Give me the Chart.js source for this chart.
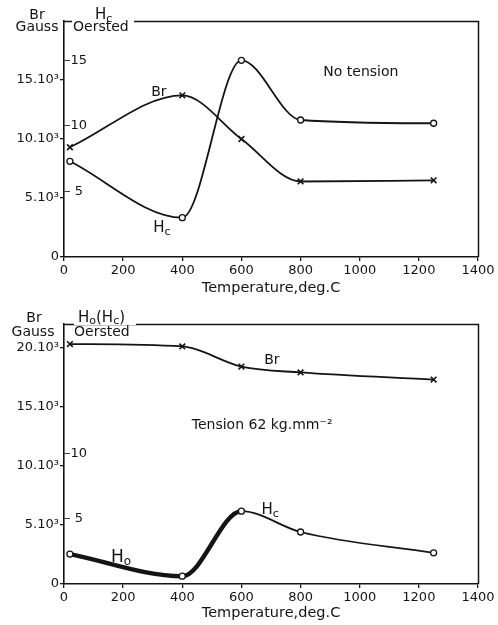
<!DOCTYPE html>
<html><head><meta charset="utf-8">
<script src="https://cdn.jsdelivr.net/npm/chart.js@4/dist/chart.umd.min.js"></script>
<style>
html,body{margin:0;padding:0;background:#fff;}
canvas{display:block;}
</style></head><body>
<canvas id="c1" width="498" height="300"></canvas>
<canvas id="c2" width="498" height="325"></canvas>
<script>
// ---- data ----
const temperatures = [20, 400, 600, 800, 1250];
const brNoTension = [9300, 13700, 10000, 6400, 6500];
const hcNoTension = [7.3, 3.0, 15.0, 10.45, 10.2];
const brTension = [20300, 20100, 18400, 17900, 17300];
const hcTension = [2.3, 0.6, 5.6, 4.0, 2.4];
const xTicks = [0, 200, 400, 600, 800, 1000, 1200, 1400];
const brTicksTop = [0, 5000, 10000, 15000];
const hcTicksTop = [5, 10, 15];
const brTicksBottom = [0, 5000, 10000, 15000, 20000];
const hcTicksBottom = [5, 10];

const FONT = '"DejaVu Sans", "Liberation Sans", sans-serif';
const INK = '#141414';

function pts(ys) { return temperatures.map((t, i) => ({x: t, y: ys[i]})); }
function brLabel(v) { return v === 0 ? '0' : (v / 1000) + '.10³'; }
function hcLabel(v) { return v < 10 ? '– ' + v : '–' + v; }

// rich text: parts [{t, size, dy}]
function drawRich(ctx, x, y, parts, align) {
  let w = 0;
  parts.forEach(p => { ctx.font = p.size + 'px ' + FONT; p.w = ctx.measureText(p.t).width; w += p.w; });
  let cx = align === 'center' ? x - w / 2 : (align === 'right' ? x - w : x);
  ctx.textAlign = 'left'; ctx.textBaseline = 'middle';
  parts.forEach(p => { ctx.font = p.size + 'px ' + FONT; ctx.fillText(p.t, cx, y + (p.dy || 0)); cx += p.w; });
}

const decor = {
  id: 'decor',
  beforeDatasetsDraw(chart) {
    const {ctx, chartArea: a} = chart;
    ctx.save();
    ctx.strokeStyle = INK; ctx.lineWidth = 1.5;
    ctx.beginPath(); ctx.moveTo(a.left, a.top + 0.5); ctx.lineTo(a.right + 0.5, a.top + 0.5); ctx.lineTo(a.right + 0.5, a.bottom); ctx.stroke();
    ctx.restore();
  },
  afterDraw(chart, args, opts) {
    const {ctx, chartArea: a} = chart;
    ctx.save();
    ctx.fillStyle = INK;
    (opts.headers || []).forEach(h => {
      if (h.bg) { ctx.fillStyle = '#fff'; ctx.fillRect(a.left + h.bg[0], a.top + h.bg[1], h.bg[2], h.bg[3]); ctx.fillStyle = INK; }
      drawRich(ctx, a.left + h.dx, a.top + h.dy, h.parts, h.align);
    });
    (opts.notes || []).forEach(n => {
      const px = chart.scales.x.getPixelForValue(n.x);
      const py = chart.scales[n.axis].getPixelForValue(n.y);
      drawRich(ctx, px, py, n.parts, 'center');
    });
    ctx.restore();
  }
};

function makeScales(brMax, hcMax, brTicks, hcTicks, xHeight) {
  const tickFont = {family: FONT, size: 13};
  return {
    x: {
      type: 'linear', min: 0, max: 1400,
      afterBuildTicks: s => { s.ticks = xTicks.map(v => ({value: v})); },
      grid: {drawOnChartArea: false, drawTicks: true, tickLength: 4, color: INK, lineWidth: 1.3},
      border: {display: true, color: INK, width: 1.6},
      ticks: {padding: 2, color: INK, font: tickFont, maxRotation: 0, autoSkip: false, callback: v => String(v)},
      title: {display: true, text: 'Temperature,deg.C', color: INK, font: {family: FONT, size: 14.5}, padding: {top: 0, bottom: 3}},
      afterFit: s => { s.height = xHeight; }
    },
    br: {
      position: 'left', weight: 2, min: 0, max: brMax,
      afterBuildTicks: s => { s.ticks = brTicks.map(v => ({value: v})); },
      grid: {drawOnChartArea: false, drawTicks: true, tickLength: 4, color: INK, lineWidth: 1.3},
      border: {display: true, color: INK, width: 1.6},
      ticks: {padding: 1, color: INK, font: tickFont, callback: brLabel},
      afterFit: s => { s.width = 64; }
    },
    hc: {
      position: 'left', weight: 0, min: 0, max: hcMax,
      afterBuildTicks: s => { s.ticks = hcTicks.map(v => ({value: v})); },
      grid: {display: false, drawTicks: false},
      border: {display: false},
      ticks: {mirror: true, padding: 0, color: INK, font: tickFont, callback: hcLabel},
      afterFit: s => { s.width = 0; }
    }
  };
}

const brStyle = {borderColor: INK, borderWidth: 1.8, pointStyle: 'crossRot', pointRadius: 4, pointBorderWidth: 1.6, pointBorderColor: INK, cubicInterpolationMode: 'monotone', yAxisID: 'br'};
const hcStyle = {borderColor: INK, borderWidth: 1.8, pointStyle: 'circle', pointRadius: 3, pointBorderWidth: 1.3, pointBorderColor: INK, pointBackgroundColor: '#fff', cubicInterpolationMode: 'monotone', yAxisID: 'hc'};

const H = (s) => [{t: 'H', size: 15}, {t: s, size: 11, dy: 4}];

new Chart(document.getElementById('c1'), {
  type: 'line',
  data: {datasets: [
    Object.assign({label: 'Br', data: pts(brNoTension)}, brStyle),
    Object.assign({label: 'Hc', data: pts(hcNoTension)}, hcStyle)
  ]},
  options: {
    responsive: false, animation: false,
    layout: {padding: {top: 21, right: 20, left: 0, bottom: 0}},
    scales: makeScales(20000, 18, brTicksTop, hcTicksTop, 43),
    plugins: {
      legend: {display: false}, tooltip: {enabled: false},
      decor: {
        headers: [
          {dx: -27, dy: -6, align: 'center', parts: [{t: 'Br', size: 14}]},
          {dx: -27, dy: 6, align: 'center', parts: [{t: 'Gauss', size: 14}]},
          {dx: 31, dy: -6, align: 'left', parts: H('c'), bg: [8, -2, 62, 14]},
          {dx: 9, dy: 6, align: 'left', parts: [{t: 'Oersted', size: 14}]}
        ],
        notes: [
          {x: 321, y: 13980, axis: 'br', parts: [{t: 'Br', size: 14}]},
          {x: 331, y: 2.2, axis: 'hc', parts: H('c')},
          {x: 1004, y: 15680, axis: 'br', parts: [{t: 'No tension', size: 14}]}
        ]
      }
    }
  },
  plugins: [decor]
});

new Chart(document.getElementById('c2'), {
  type: 'line',
  data: {datasets: [
    Object.assign({label: 'Br', data: pts(brTension)}, brStyle),
    Object.assign({label: 'Ho(Hc)', data: pts(hcTension),
      segment: {borderWidth: ctx => ctx.p1DataIndex <= 2 ? 4.5 : 1.8}}, hcStyle)
  ]},
  options: {
    responsive: false, animation: false,
    layout: {padding: {top: 24, right: 20, left: 0, bottom: 0}},
    scales: makeScales(22000, 20, brTicksBottom, hcTicksBottom, 41),
    plugins: {
      legend: {display: false}, tooltip: {enabled: false},
      decor: {
        headers: [
          {dx: -30, dy: -6, align: 'center', parts: [{t: 'Br', size: 14}]},
          {dx: -31, dy: 8, align: 'center', parts: [{t: 'Gauss', size: 14}]},
          {dx: 14, dy: -6, align: 'left', bg: [10, -3, 62, 4],
            parts: [{t: 'H', size: 15}, {t: 'o', size: 11, dy: 3}, {t: '(H', size: 15}, {t: 'c', size: 11, dy: 3}, {t: ')', size: 15}]},
          {dx: 10, dy: 8, align: 'left', parts: [{t: 'Oersted', size: 14}]}
        ],
        notes: [
          {x: 703, y: 18950, axis: 'br', parts: [{t: 'Br', size: 14}]},
          {x: 670, y: 13450, axis: 'br', parts: [{t: 'Tension 62 kg.mm⁻²', size: 14}]},
          {x: 697, y: 5.7, axis: 'hc', parts: H('c')},
          {x: 193, y: 2.0, axis: 'hc', parts: [{t: 'H', size: 17}, {t: 'o', size: 12, dy: 4}]}
        ]
      }
    }
  },
  plugins: [decor]
});
</script>
</body></html>
